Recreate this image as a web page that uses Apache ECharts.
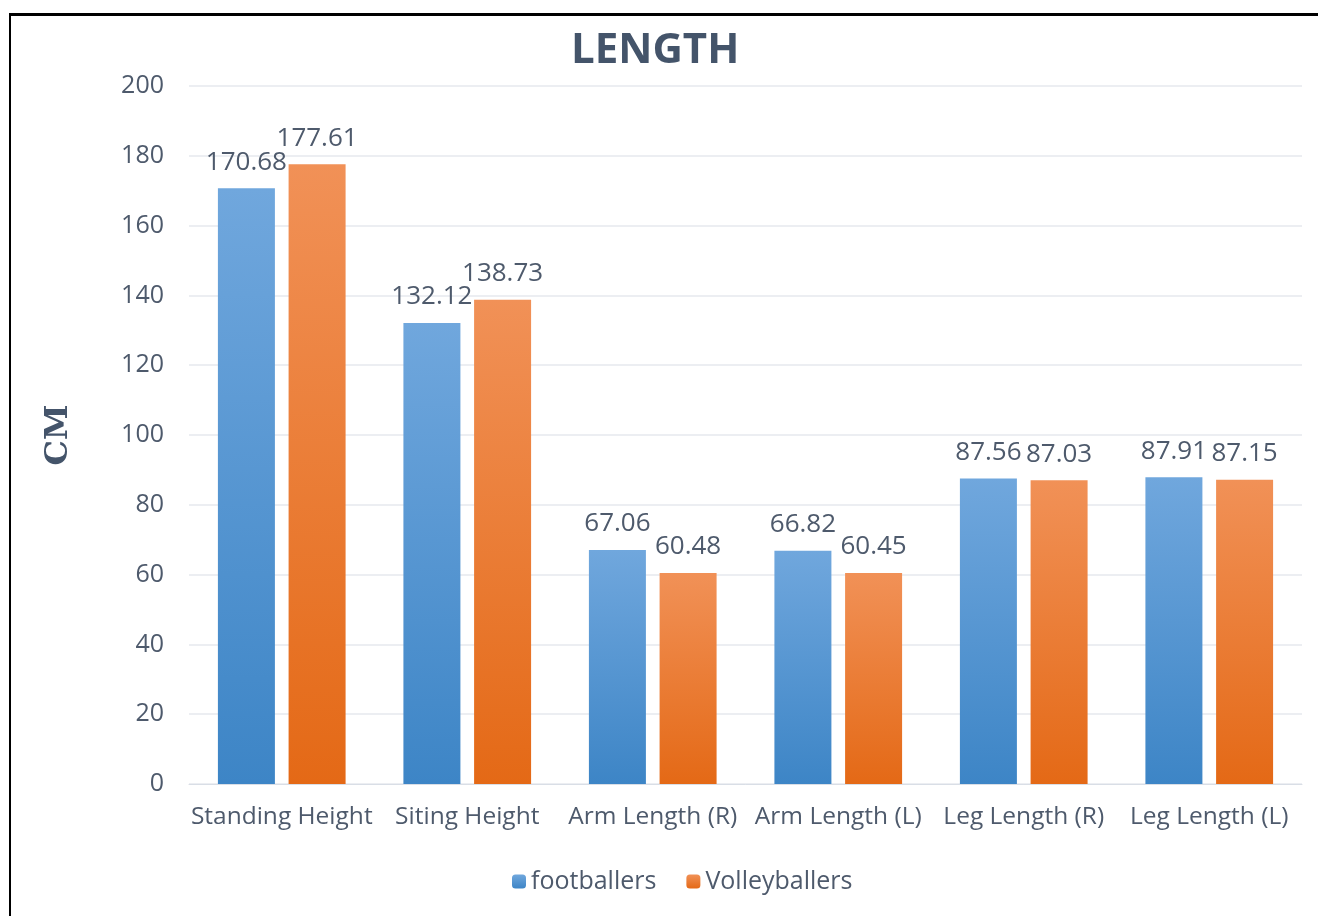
<!DOCTYPE html>
<html>
<head>
<meta charset="utf-8">
<script src="https://cdn.jsdelivr.net/npm/echarts@6/dist/echarts.min.js"></script>
<style>
  html, body { margin: 0; padding: 0; background: #fff; overflow: hidden; }
  #frame { position: absolute; left: 9px; top: 13px; width: 1320px; height: 910px; border-top: 3px solid #000; border-left: 2px solid #000; box-sizing: border-box; }
  #main { position: absolute; left: 0; top: 0; width: 1318px; height: 916px; }
</style>
</head>
<body>
<div id="frame"></div>
<div id="main"></div>
<script>
// 数据
var categories = ['Standing Height', 'Siting Height', 'Arm Length (R)', 'Arm Length (L)', 'Leg Length (R)', 'Leg Length (L)'];
var footballers = [170.68, 132.12, 67.06, 66.82, 87.56, 87.91];
var volleyballers = [177.61, 138.73, 60.48, 60.45, 87.03, 87.15];

var textColor = '#4e5a6c';
var font = 'Open Sans';

function grad(top, bottom) {
    return new echarts.graphic.LinearGradient(0, 0, 0, 1, [
        { offset: 0, color: top },
        { offset: 1, color: bottom }
    ]);
}

var myChart = echarts.init(document.getElementById('main'));
myChart.setOption({
    animation: false,
    title: {
        text: 'LENGTH',
        left: 566,
        top: 25,
        textStyle: { fontFamily: 'Open Sans', fontWeight: 'bold', fontSize: 42, color: '#44546A' }
    },
    legend: {
        bottom: 17,
        left: 507,
        itemWidth: 14,
        itemHeight: 14,
        itemGap: 30,
        textStyle: { fontFamily: font, fontSize: 25, color: textColor },
        data: ['footballers', 'Volleyballers']
    },
    grid: { left: 189, right: 16, top: 86, bottom: 132 },
    xAxis: {
        type: 'category',
        data: categories,
        axisTick: { show: false },
        axisLine: { lineStyle: { color: '#d9dee6' } },
        axisLabel: { fontFamily: font, fontSize: 24.5, color: textColor, margin: 21, interval: 0 }
    },
    yAxis: {
        type: 'value',
        min: 0,
        max: 200,
        interval: 20,
        name: 'CM',
        nameLocation: 'middle',
        nameGap: 114,
        nameTextStyle: { fontFamily: 'DejaVu Serif', fontWeight: 'bold', fontSize: 32, color: '#44546A' },
        axisLabel: { fontFamily: font, fontSize: 25, color: textColor, margin: 25 },
        splitLine: { lineStyle: { color: '#e6e9ee', width: 1.5 } }
    },
    series: [{
        name: 'footballers',
        type: 'bar',
        data: footballers,
        barWidth: 57,
        barGap: '24%',
        itemStyle: { color: grad('#70a7dd', '#3d85c6') },
        label: { show: true, position: 'top', distance: 13, fontFamily: font, fontSize: 26, color: textColor }
    }, {
        name: 'Volleyballers',
        type: 'bar',
        data: volleyballers,
        barWidth: 57,
        itemStyle: { color: grad('#f19157', '#e46916') },
        label: { show: true, position: 'top', distance: 13, fontFamily: font, fontSize: 26, color: textColor }
    }]
});
</script>
</body>
</html>
